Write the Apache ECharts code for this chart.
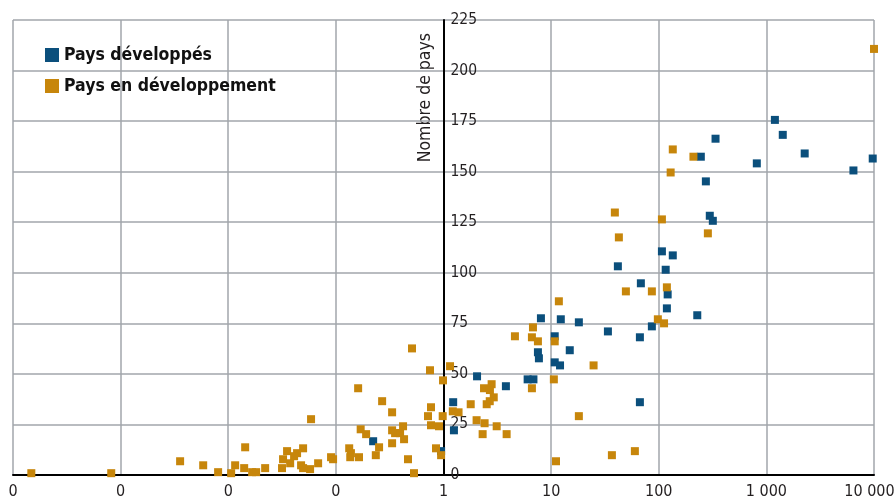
<!DOCTYPE html>
<html>
<head>
<meta charset="utf-8">
<script src="https://cdn.jsdelivr.net/npm/echarts@6/dist/echarts.min.js"></script>
<style>html,body{margin:0;padding:0;background:#fff}#c{width:896px;height:500px}</style>
</head>
<body>
<div id="c"></div>
<script>
const seriesNames = ['Pays développés', 'Pays en développement'];
const xTickLabels = ['0', '0', '0', '0', '1', '10', '100', '1 000', '10 000'];
const yAxisName = 'Nombre de pays';

const devX = [1200,1420,337,2270,815,9730,6440,246,274,298,318,107,135,41.7,116,68.2,121,119,228,86.3,33.7,66.8,12.3,18.1,8.04,10.8,7.54,14.9,7.7,10.8,12.1,2.05,6.05,6.85,3.8,66.8,1.23,1.25,0.95,0.222];
const devY = [175.6,168.2,166.3,159,154.1,156.5,150.6,157.4,145.2,128.2,125.7,110.6,108.6,103.2,101.5,94.8,89.3,82.4,79,73.5,71,68.1,77,75.5,77.5,68.6,60.7,61.7,57.7,55.7,54.2,48.8,47.3,47.3,43.9,36,36,22.1,11.8,16.7];

const dvlX = [10000,135,210,129,39.1,107,42.6,286,49.5,86.3,119,98.1,112,11.8,6.78,4.61,6.63,7.54,10.8,24.8,10.6,6.63,18.1,36.7,60,11.1,
  1.15,0.99,2.8,2.38,2.7,2.93,2.69,2.52,1.79,1.22,1.38,0.983,2.03,2.41,3.12,2.31,3.86,0.95,0.908,
  0.51,0.749,0.161,0.269,0.333,0.0588,0.765,0.718,0.765,0.17,0.191,0.333,0.355,0.395,0.421,0.43,0.333,0.252,0.235,0.133,0.138,0.136,0.164,0.0902,0.0942,0.468,0.532,0.852,
  0.0496,0.0436,0.0352,0.0409,0.0323,0.0376,0.0475,0.0576,0.0684,0.0316,0.0496,
  0.01436,0.01159,0.01406,0.01667,0.01816,0.02202,0.01064,0.00805,0.00585,0.00357,0.000818,0.000148];
const dvlY = [210.7,161,157.4,149.6,129.8,126.4,117.5,119.5,90.8,90.8,92.8,77,75,85.9,73,68.6,68.1,66.1,66.1,54.2,47.3,42.9,29.1,9.8,11.8,6.8,
  53.8,46.8,44.9,42.9,42,38.4,36.5,35,35,31.5,31,29.1,27.1,25.6,24.1,20.2,20.2,9.8,24.1,
  62.6,51.8,42.9,36.5,31,27.6,33.5,29.1,24.6,22.6,20.2,22.1,20.7,20.7,24.1,17.7,15.7,13.7,9.8,13.2,10.8,8.8,8.8,8.8,7.8,7.8,0.9,13.2,
  13.2,10.8,11.8,9.3,7.8,5.8,4.8,2.9,5.8,3.4,3.4,
  13.7,4.8,3.4,1.4,1.4,3.4,0.9,1.4,4.8,6.8,0.9,0.9];

const colors = ['#0b4f7c', '#c7860b'];
const FONT = "'Liberation Sans Narrow', 'DejaVu Sans Condensed', 'Open Sans', sans-serif";

const zip = (xs, ys) => xs.map((x, i) => [x, ys[i]]);

const chart = echarts.init(document.getElementById('c'), null, {renderer: 'canvas'});
const gridLeft = 13, gridRight = 22;
const plotW = 896 - gridLeft - gridRight;
const oneOffset = plotW * 4 / 8; // position of x=1 relative to grid left

chart.setOption({
  animation: false,
  backgroundColor: '#ffffff',
  color: colors,
  grid: {left: gridLeft, right: gridRight, top: 20, bottom: 25, containLabel: false, outerBoundsMode: 'none'},
  legend: {
    orient: 'vertical', left: 40, top: 41, itemWidth: 14, itemHeight: 14, itemGap: 13,
    icon: 'rect',
    textStyle: {fontFamily: FONT, fontSize: 17.5, fontWeight: 'bold', color: '#111'},
    data: seriesNames
  },
  xAxis: {
    type: 'log', logBase: 10, min: 0.0001, max: 10000, splitNumber: 8,
    axisLine: {show: true, lineStyle: {color: '#000', width: 2}},
    axisTick: {show: false},
    axisLabel: {
      fontFamily: FONT, fontSize: 16, color: '#231f20', margin: 9,
      formatter: v => {
        const i = Math.round(Math.log10(v)) + 4;
        return i === xTickLabels.length - 1 ? '{last|' + xTickLabels[i] + '}' : xTickLabels[i];
      },
      rich: {last: {fontFamily: FONT, fontSize: 16, color: '#231f20', padding: [0, 9, 0, 0]}}
    },
    splitLine: {show: true, lineStyle: {color: '#a2a6ab', width: 1.5}}
  },
  yAxis: {
    type: 'value', min: 0, max: 225, interval: 25,
    position: 'left', offset: -oneOffset,
    axisLine: {show: true, onZero: false, lineStyle: {color: '#000', width: 2}},
    axisTick: {show: false},
    axisLabel: {inside: true, fontFamily: FONT, fontSize: 15.5, color: '#231f20', margin: 7},
    splitLine: {show: true, lineStyle: {color: '#a2a6ab', width: 1.5}}
  },
  graphic: [{
    type: 'text', x: gridLeft + oneOffset - 18, y: 33, rotation: Math.PI / 2,
    style: {text: yAxisName, fontFamily: FONT, fontSize: 17.5, fill: '#231f20', align: 'right', verticalAlign: 'middle'}
  }],
  series: [
    {name: seriesNames[0], type: 'scatter', symbol: 'rect', symbolSize: 8, data: zip(devX, devY), itemStyle: {color: colors[0], opacity: 1}},
    {name: seriesNames[1], type: 'scatter', symbol: 'rect', symbolSize: 8, data: zip(dvlX, dvlY), itemStyle: {color: colors[1], opacity: 1}}
  ]
});
</script>
</body>
</html>
